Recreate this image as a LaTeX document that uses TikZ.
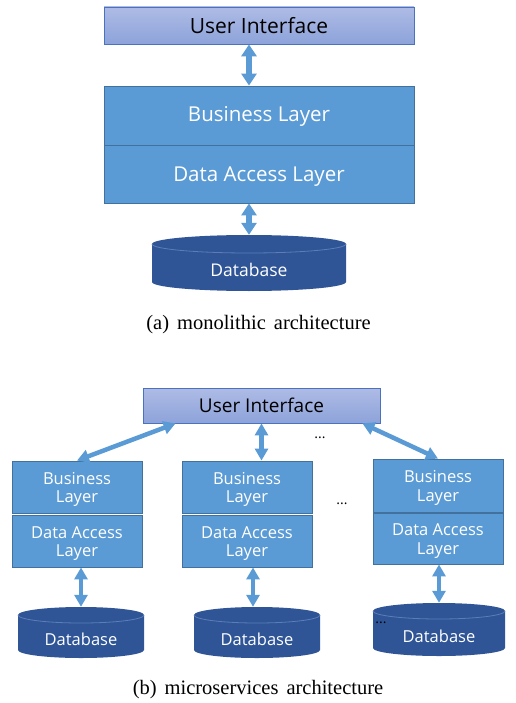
\documentclass[tikz,border=0pt]{standalone}
\usepackage{fontspec}
\setmainfont{Liberation Serif}
\newfontfamily\uifont{Open Sans}
\usetikzlibrary{arrows.meta,calc}
\definecolor{uitop}{HTML}{AEBBE5}
\definecolor{uibot}{HTML}{8DA3DA}
\definecolor{uiline}{HTML}{4A72BE}
\definecolor{layerfill}{HTML}{5B9BD5}
\definecolor{layerline}{HTML}{41719C}
\definecolor{dbfill}{HTML}{2F5597}
\definecolor{dbrim}{HTML}{5C7DB8}
\definecolor{arrowc}{HTML}{5B9BD5}
\newcommand\dbcyl[5]{%
  \pgfmathsetmacro\myrx{(#2-#1)/2}%
  \fill[dbfill] (#1,-#3-#5) -- (#1,-#4+#5)
    arc[start angle=180,end angle=360,x radius=\myrx pt,y radius=#5 pt]
    -- (#2,-#3-#5)
    arc[start angle=0,end angle=180,x radius=\myrx pt,y radius=#5 pt] -- cycle;
  \draw[dbrim,line width=0.8pt] (#1,-#3-#5)
    arc[start angle=180,end angle=360,x radius=\myrx pt,y radius=#5 pt];
}
\newcommand\lowtext[2]{\raisebox{-#1}[\height][\depth]{\begin{tabular}{@{}c@{}}#2\end{tabular}}}
\tikzset{
  uibox/.style={draw=uiline,line width=0.8pt,top color=uitop,bottom color=uibot,
    inner sep=0pt,font=\uifont\fontsize{21}{24}\selectfont,text=black},
  layerbox/.style={draw=layerline,line width=0.9pt,fill=layerfill,inner sep=0pt,
    text=white,align=center},
  bigtext/.style={font=\uifont\fontsize{20.5}{23}\selectfont},
  smalltext/.style={font=\uifont\fontsize{16.5}{18.5}\selectfont},
  dbtext/.style={inner sep=0pt,text=white,text height=30pt,text depth=4pt},
  dblink/.style={draw=arrowc,line width=6pt,{Triangle[width=15pt,length=12pt]}-{Triangle[width=15pt,length=12pt]}},
  slink/.style={draw=arrowc,line width=4.5pt,{Triangle[width=13pt,length=12pt]}-{Triangle[width=13pt,length=12pt]}},
  caption/.style={font=\fontsize{20.5}{22}\selectfont,inner sep=0pt},
  dots/.style={font=\uifont\fontsize{14}{16}\selectfont,inner sep=0pt,text=black}
}
\begin{document}
\begin{tikzpicture}[x=1pt,y=1pt]
\useasboundingbox (0,0) rectangle (515,-703);
% ---------- (a) monolithic ----------
\node[uibox,minimum width=310pt,minimum height=37pt] (ui1) at (259,-25.5) {User Interface};
\node[layerbox,bigtext,minimum width=310pt,minimum height=59pt] (bl1) at (259,-115.5) {\lowtext{1.5pt}{Business Layer}};
\node[layerbox,bigtext,minimum width=310pt,minimum height=58pt] (dal1) at (259,-174) {\lowtext{3pt}{Data Access Layer}};
\dbcyl{152}{346}{235}{291}{9}
\node[dbtext,font=\uifont\fontsize{17.5}{20}\selectfont,minimum width=194pt,minimum height=56pt] (db1) at (249,-263) {Database};
\draw[dblink] (ui1.south -| db1.north) -- (bl1.north -| db1.north);
\draw[dblink] (dal1.south -| db1.north) -- (db1.north);
\node[caption] (capa) at (258.5,-325) {(a)\hspace{8pt}monolithic\hspace{8pt}architecture};
% ---------- (b) microservices ----------
\node[uibox,font=\uifont\fontsize{19}{22}\selectfont,minimum width=237pt,minimum height=35pt] (ui2) at (261.5,-405.5) {User Interface};
% left
\node[layerbox,smalltext,minimum width=130pt,minimum height=52pt] (bL) at (77,-487) {\lowtext{3pt}{Business\\Layer}};
\node[layerbox,smalltext,minimum width=130pt,minimum height=52pt] (dL) at (77,-541) {\lowtext{3pt}{Data Access\\Layer}};
% middle
\node[layerbox,smalltext,minimum width=130pt,minimum height=52pt] (bM) at (247,-487) {\lowtext{3pt}{Business\\Layer}};
\node[layerbox,smalltext,minimum width=130pt,minimum height=52pt] (dM) at (247,-541) {\lowtext{3pt}{Data Access\\Layer}};
% right
\node[layerbox,smalltext,minimum width=130pt,minimum height=53pt] (bR) at (438,-485.5) {\lowtext{3pt}{Business\\Layer}};
\node[layerbox,smalltext,minimum width=130pt,minimum height=51pt] (dR) at (438,-538.5) {\lowtext{3pt}{Data Access\\Layer}};
% databases
\dbcyl{18}{144}{607}{658}{8}
\node[dbtext,font=\uifont\fontsize{16.5}{20}\selectfont,minimum width=126pt,minimum height=51pt] (dbL) at (81,-632.5) {Database};
\dbcyl{194}{320}{607}{658}{8}
\node[dbtext,font=\uifont\fontsize{16.5}{20}\selectfont,minimum width=126pt,minimum height=51pt] (dbM) at (257,-632.5) {Database};
\dbcyl{373}{505}{603}{656}{8}
\node[dbtext,font=\uifont\fontsize{16.5}{20}\selectfont,minimum width=132pt,minimum height=53pt] (dbR) at (439,-629.5) {Database};
% arrows
\draw[slink] ([xshift=33pt]ui2.south west) -- (bL.north);
\draw[slink] (ui2.south) -- (ui2.south |- bM.north);
\draw[slink] ([xshift=-18pt]ui2.south east) -- (bR.north);
\draw[slink] (dL.south -| dbL.north) -- (dbL.north);
\draw[slink] ([xshift=-4pt]dbM.north |- dM.south) -- ([xshift=-4pt]dbM.north);
\draw[slink] (dR.south -| dbR.north) -- (dbR.north);
% dots
\node[dots] (dots1) at (320,-438) {...};
\node[dots] (dots2) at (342,-504) {...};
\node[dots] (dots3) at (381,-623) {...};
\node[caption] (capb) at (258,-690) {(b)\hspace{8pt}microservices\hspace{8pt}architecture};
\end{tikzpicture}
\end{document}
